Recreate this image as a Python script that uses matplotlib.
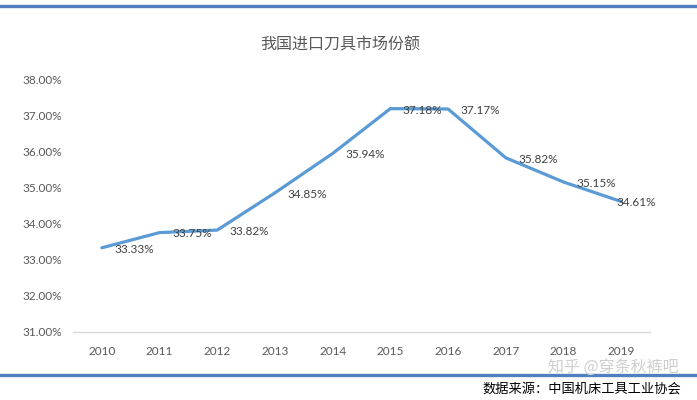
import matplotlib
matplotlib.use("Agg")
import matplotlib.pyplot as plt
from matplotlib.lines import Line2D
from matplotlib.ticker import FuncFormatter

plt.rcParams['font.family'] = ['Lato', 'Noto Sans CJK SC', 'DejaVu Sans']

years = ['2010', '2011', '2012', '2013', '2014', '2015', '2016', '2017', '2018', '2019']
share = [33.33, 33.75, 33.82, 34.85, 35.94, 37.18, 37.17, 35.82, 35.15, 34.61]
title = '我国进口刀具市场份额'
source = '数据来源：中国机床工具工业协会'
watermark = '知乎 @穿条秋裤吧'

fig = plt.figure(figsize=(6.97, 4.0), dpi=100)
ax = fig.add_axes([0.1047, 0.17, 0.8279, 0.6325])

x = list(range(len(years)))
ax.plot(x, share, color='#5B9BD5', linewidth=2.3, solid_joinstyle='round', solid_capstyle='round', zorder=2)
for i, (xi, v) in enumerate(zip(x, share)):
    dx = 9 if i < len(x) - 1 else -3.5
    ax.annotate(f'{v:.2f}%', (xi, v), xytext=(dx, -1), textcoords='offset points',
                ha='left', va='center', fontsize=8.5, color='#404040', zorder=3,
                annotation_clip=False)

ax.set_xlim(-0.5, len(years) - 0.5)
ax.set_ylim(31, 38)
ax.set_yticks([31, 32, 33, 34, 35, 36, 37, 38])
ax.yaxis.set_major_formatter(FuncFormatter(lambda v, p: f'{v:.2f}%'))
ax.set_xticks(x)
ax.set_xticklabels(years)
ax.tick_params(axis='both', length=0, labelsize=8.5, labelcolor='#595959')
ax.tick_params(axis='x', pad=10)
ax.tick_params(axis='y', pad=8)
for s in ['top', 'right', 'left']:
    ax.spines[s].set_visible(False)
ax.spines['bottom'].set_color('#D9D9D9')
ax.spines['bottom'].set_linewidth(1.0)

fig.text(0.488, 0.887, title, ha='center', va='center', fontsize=11.5, color='#595959',
         family=['Noto Sans CJK SC', 'DejaVu Sans'])

fig.add_artist(Line2D([0, 1], [1 - 6 / 400, 1 - 6 / 400], transform=fig.transFigure,
                      color='#4F7FBF', linewidth=2.4))
fig.add_artist(Line2D([0, 1], [1 - 374.5 / 400, 1 - 374.5 / 400], transform=fig.transFigure,
                      color='#4F7FBF', linewidth=2.4))

fig.text(0.973, 1 - 367 / 400, watermark, ha='right', va='center', fontsize=11.5, color='#CFCFCF',
         family=['Noto Sans CJK SC', 'DejaVu Sans'], zorder=5)
fig.text(0.977, 1 - 389 / 400, source, ha='right', va='center', fontsize=9.5, color='#000000',
         family=['Noto Sans CJK SC', 'DejaVu Sans'], fontweight='medium')

fig.savefig('out.png', dpi=100)
